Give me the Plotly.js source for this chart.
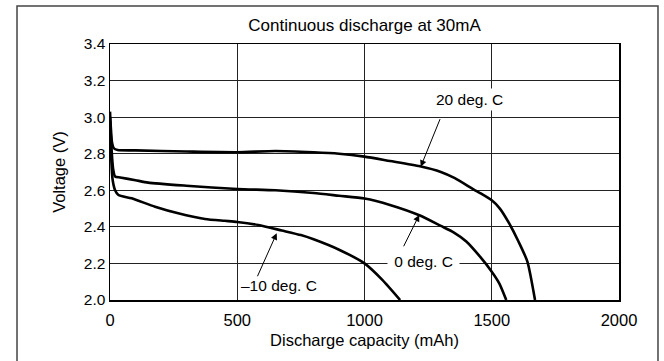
<!DOCTYPE html>
<html>
<head>
<meta charset="utf-8">
<script src="https://cdn.plot.ly/plotly-3.0.1.min.js"></script>
<style>html,body{margin:0;padding:0;background:#fff;}#chart{width:664px;height:361px;}</style>
</head>
<body>
<div id="chart"></div>
<script>
// Data
const capacity20 = [0, 3, 8, 15, 30, 100, 300, 500, 650, 800, 900, 1000, 1100, 1218, 1300, 1355, 1428, 1454, 1500, 1532, 1568, 1605, 1640, 1670];
const voltage20  = [3.03, 2.95, 2.86, 2.83, 2.82, 2.818, 2.812, 2.808, 2.815, 2.808, 2.80, 2.784, 2.76, 2.731, 2.70, 2.666, 2.605, 2.585, 2.545, 2.50, 2.42, 2.32, 2.21, 2.0];

const capacity0 = [0, 5, 12, 20, 40, 100, 150, 300, 500, 650, 800, 900, 1000, 1100, 1218, 1300, 1350, 1400, 1454, 1500, 1530, 1557];
const voltage0  = [3.0, 2.85, 2.72, 2.675, 2.67, 2.655, 2.642, 2.625, 2.607, 2.60, 2.585, 2.57, 2.555, 2.52, 2.462, 2.405, 2.37, 2.32, 2.237, 2.155, 2.09, 2.0];

const capacityM10 = [0, 4, 10, 20, 33, 85, 177, 268, 373, 450, 500, 583, 675, 750, 800, 900, 1000, 1070, 1140];
const voltageM10  = [2.98, 2.8, 2.66, 2.6, 2.574, 2.556, 2.51, 2.474, 2.443, 2.433, 2.427, 2.41, 2.38, 2.355, 2.332, 2.275, 2.20, 2.11, 2.0];

const seriesNames = ['20 deg. C', '0 deg. C', '\u201310 deg. C'];
const xTickVals = [0, 500, 1000, 1500, 2000];
const yTickVals = [2.0, 2.2, 2.4, 2.6, 2.8, 3.0, 3.2, 3.4];
const yTickText = ['2.0', '2.2', '2.4', '2.6', '2.8', '3.0', '3.2', '3.4'];

const FONT = 'Liberation Sans, Arial, Helvetica, sans-serif';
const lineStyle = {color: '#000', width: 2.6, shape: 'spline', smoothing: 0.6};

const traces = [
  {x: capacity20, y: voltage20, name: seriesNames[0]},
  {x: capacity0, y: voltage0, name: seriesNames[1]},
  {x: capacityM10, y: voltageM10, name: seriesNames[2]}
].map(t => Object.assign(t, {type: 'scatter', mode: 'lines', line: lineStyle, hoverinfo: 'skip', cliponaxis: true}));

function arrow(x, y, ax, ay) {
  return {x: x, y: y, ax: ax, ay: ay, xref: 'x', yref: 'y', axref: 'x', ayref: 'y',
    showarrow: true, arrowhead: 2, arrowsize: 1.3, arrowwidth: 1, arrowcolor: '#000',
    standoff: 0, startstandoff: 0, font: {size: 1}};
}
function label(text, x, y, bg) {
  return {text: text, x: x, y: y, xref: 'x', yref: 'y', showarrow: false,
    font: {family: FONT, size: 15.5, color: '#000'},
    bgcolor: bg ? '#fff' : 'rgba(0,0,0,0)', borderpad: 2, xanchor: 'center', yanchor: 'middle'};
}

const layout = {
  width: 664, height: 361,
  margin: {l: 110, r: 45, t: 44, b: 61},
  paper_bgcolor: '#fff', plot_bgcolor: '#fff',
  showlegend: false,
  font: {family: FONT, size: 15, color: '#000'},
  title: {text: 'Continuous discharge at 30mA', font: {family: FONT, size: 17, color: '#000'},
    x: 0.5, xref: 'paper', y: 1 - 25/361, yref: 'container', yanchor: 'middle'},
  xaxis: {
    range: [0, 2000], tickvals: xTickVals, ticks: '', ticklabelstandoff: 5, showgrid: true, gridcolor: '#222', gridwidth: 1,
    zeroline: false, showline: true, mirror: true, linecolor: '#000', linewidth: 1.5,
    tickfont: {family: FONT, size: 16.5, color: '#000'},
    title: {text: 'Discharge capacity (mAh)', font: {family: FONT, size: 16.5, color: '#000'}, standoff: 6}
  },
  yaxis: {
    range: [2.0, 3.4], tickvals: yTickVals, ticktext: yTickText, ticks: '', showgrid: true, gridcolor: '#222', gridwidth: 1,
    zeroline: false, showline: true, mirror: true, linecolor: '#000', linewidth: 1.5,
    tickfont: {family: FONT, size: 15.5, color: '#000'},
    title: {text: 'Voltage (V)', font: {family: FONT, size: 16.5, color: '#000'}, standoff: 14}
  },
  shapes: [{type: 'rect', xref: 'paper', yref: 'paper', x0: -0.1827, x1: 1.0766, y0: -0.3, y1: 1.1484,
    line: {color: '#444', width: 1.5}, fillcolor: 'rgba(0,0,0,0)', layer: 'below'}],
  annotations: [
    arrow(1221, 2.729, 1300, 3.0),
    arrow(1215, 2.465, 1150, 2.283),
    arrow(655, 2.365, 576, 2.119),
    label(seriesNames[0], 1414, 3.094, true),
    label('\u00a0' + seriesNames[1] + '\u00a0', 1230, 2.208, true),
    label(seriesNames[2], 664, 2.081, false)
  ]
};

Plotly.newPlot('chart', traces, layout, {staticPlot: true, displayModeBar: false});
</script>
</body>
</html>
